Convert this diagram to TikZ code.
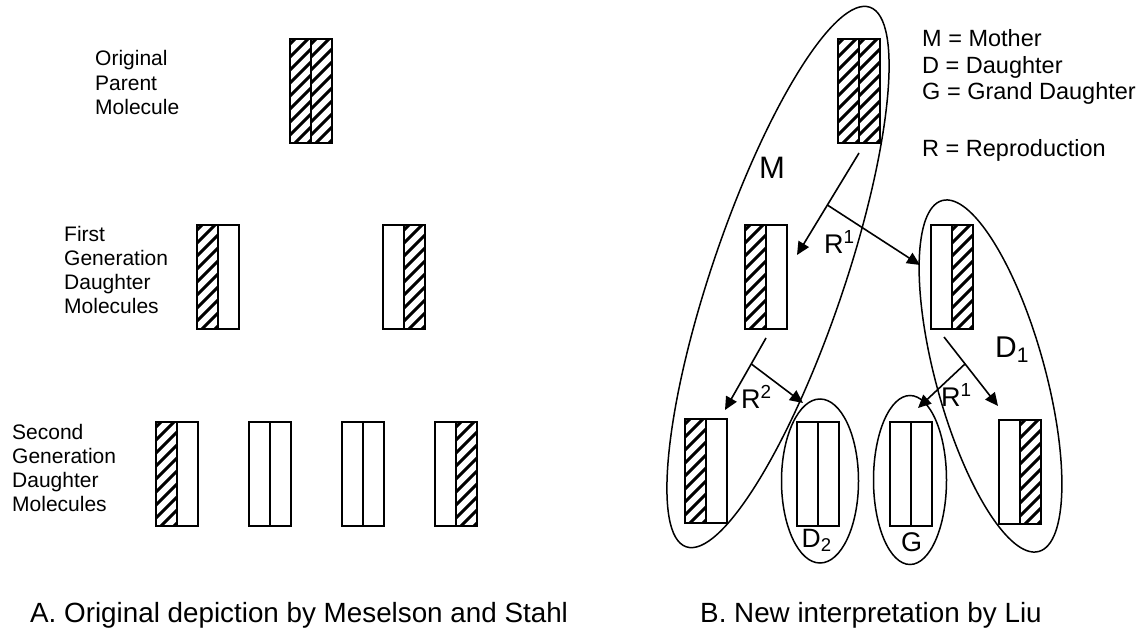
\documentclass[tikz,border=0pt]{standalone}
\usepackage{fontspec}
\setmainfont{Liberation Sans}
\usetikzlibrary{arrows.meta,shapes.geometric,calc}
\tikzset{
  mol/.style={draw, line width=1.9pt, minimum width=42pt, minimum height=104pt, inner sep=0pt, outer sep=0pt},
  molline/.style={line width=1.9pt},
  hatchline/.style={line width=3pt},
  conn/.style={line width=1.6pt, -{Triangle[length=13pt,width=12pt]}},
  blob/.style={draw, ellipse, line width=1.5pt, inner sep=0pt, outer sep=0pt},
  lbl/.style={inner sep=0pt, anchor=base west},
  sidelbl/.style={inner sep=0pt, anchor=base west, font=\fontsize{21}{24.3}\selectfont},
  legend/.style={inner sep=0pt, anchor=base west, font=\fontsize{23.5}{26}\selectfont},
  captext/.style={inner sep=0pt, anchor=base west, font=\fontsize{27.8}{30}\selectfont},
}
\newcommand\hatchhalf[2]{%
  \begin{scope}
    \clip (#1,-#2) rectangle ++(21,-104);
    \foreach \k in {0,...,11} \draw[hatchline] (#1-2,-#2-124+\k*13) -- ++(44,44);
  \end{scope}}
\newcommand\molec[5]{%
  \ifnum#4=1 \hatchhalf{#2}{#3}\fi
  \ifnum#5=1 \hatchhalf{#2+21}{#3}\fi
  \node[mol, anchor=north west] (#1) at (#2,-#3) {};
  \draw[molline] (#1.north) -- (#1.south);}
\begin{document}
\begin{tikzpicture}[x=1pt,y=1pt]
\useasboundingbox[fill=white] (0,0) rectangle (1146,-634);

% ---------- Panel A ----------
\molec{PA}{290}{39}{1}{1}
\molec{FA1}{197}{225}{1}{0}
\molec{FA2}{383}{225}{0}{1}
\molec{SA1}{156}{422}{1}{0}
\molec{SA2}{249}{422}{0}{0}
\molec{SA3}{342}{422}{0}{0}
\molec{SA4}{435}{422}{0}{1}

\node[sidelbl] (lorig) at (95,-66) {\begin{tabular}[t]{@{}l@{}}Original\\Parent\\Molecule\end{tabular}};
\node[sidelbl] (lfirst) at (64,-241) {\begin{tabular}[t]{@{}l@{}}First\\Generation\\Daughter\\Molecules\end{tabular}};
\node[sidelbl] (lsecond) at (12,-439) {\begin{tabular}[t]{@{}l@{}}Second\\Generation\\Daughter\\Molecules\end{tabular}};

\node[captext] (capA) at (30,-622) {A. Original depiction by Meselson and Stahl};

% ---------- Panel B ----------
\molec{PB}{838}{39}{1}{1}
\molec{FB1}{745}{225}{1}{0}
\molec{FB2}{931}{225}{0}{1}
\molec{SB1}{685}{419}{1}{0}
\molec{SB2}{797}{422}{0}{0}
\molec{SB3}{890}{422}{0}{0}
\molec{SB4}{999}{420}{0}{1}

\node[blob, minimum width=132pt, minimum height=570pt, rotate=-18.8] (Mell) at (778,-277) {};
\node[blob, minimum width=109pt, minimum height=364pt, rotate=15.4] (D1ell) at (990.5,-376) {};
\node[blob, minimum width=77pt, minimum height=164pt] (D2ell) at (820,-481) {};
\node[blob, minimum width=73pt, minimum height=169pt] (Gell) at (910,-480) {};

% arrows
\coordinate (a1s) at (859,-153);
\coordinate (a1e) at (797,-255);
\coordinate (b1s) at ($(a1s)!0.51!(a1e)$);
\coordinate (b1e) at (920,-265);
\draw[conn] (a1s) -- (a1e);
\draw[conn] (b1s) -- (b1e);

\coordinate (a2s) at (766,-338);
\coordinate (a2e) at (725,-410);
\coordinate (b2s) at ($(a2s)!0.36!(a2e)$);
\coordinate (b2e) at (803,-403);
\draw[conn] (a2s) -- (a2e);
\draw[conn] (b2s) -- (b2e);

\coordinate (a3s) at (944,-337);
\coordinate (a3e) at (998,-406);
\coordinate (b3s) at ($(a3s)!0.39!(a3e)$);
\coordinate (b3e) at (918,-408);
\draw[conn] (a3s) -- (a3e);
\draw[conn] (b3s) -- (b3e);

% labels
\node[lbl, font=\fontsize{31}{34}\selectfont] (lM) at (759,-178) {M};
\node[lbl, font=\fontsize{27}{30}\selectfont] (lR1) at (824,-253) {R\textsuperscript{1}};
\node[lbl, font=\fontsize{27}{30}\selectfont] (lR2) at (741,-408) {R\textsuperscript{2}};
\node[lbl, font=\fontsize{27}{30}\selectfont] (lR3) at (941,-406) {R\textsuperscript{1}};
\node[lbl, font=\fontsize{30}{33}\selectfont] (lD1) at (995,-357) {D\textsubscript{1}};
\node[lbl, font=\fontsize{26.5}{29}\selectfont] (lD2) at (801.5,-547) {D\textsubscript{2}};
\node[lbl, font=\fontsize{27}{30}\selectfont] (lG) at (901,-551.5) {G};

\node[legend] (leg1) at (922,-47) {M = Mother};
\node[legend] (leg2) at (922,-73.5) {D = Daughter};
\node[legend] (leg3) at (922,-99.5) {G = Grand Daughter};
\node[legend] (leg4) at (922,-156.7) {R = Reproduction};

\node[captext] (capB) at (700,-622) {B. New interpretation by Liu};
\end{tikzpicture}
\end{document}
